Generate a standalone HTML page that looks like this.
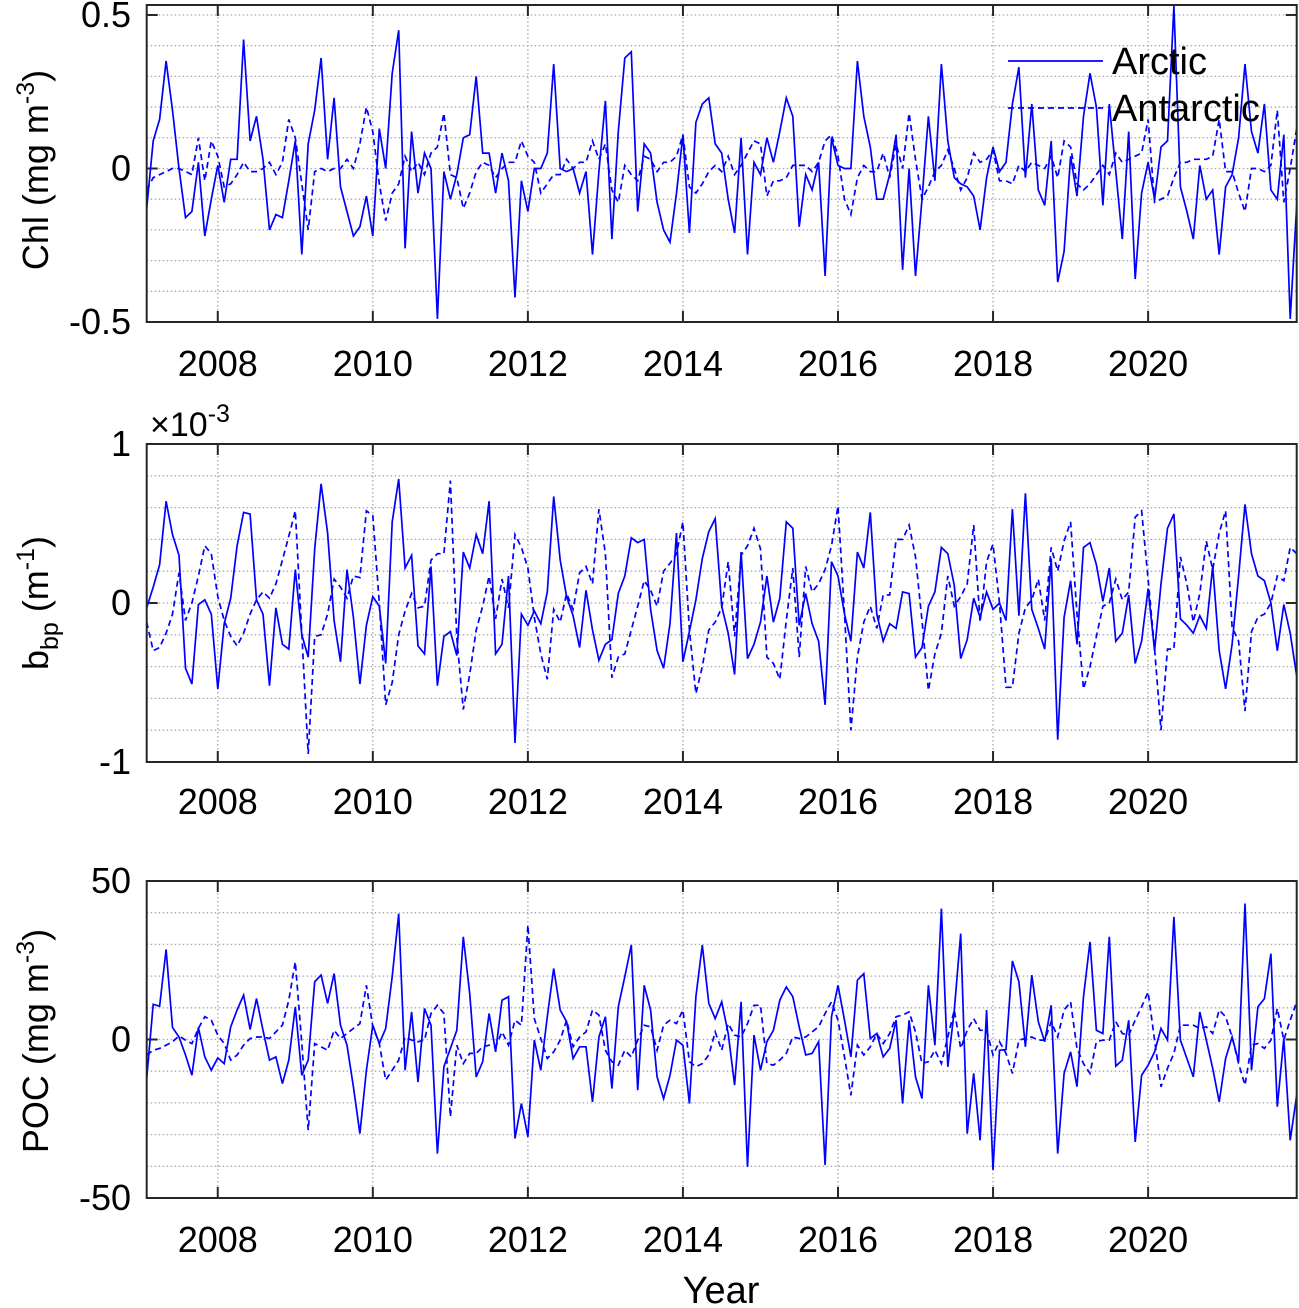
<!DOCTYPE html>
<html><head><meta charset="utf-8"><style>
html,body{margin:0;padding:0;background:#fff;}
svg{display:block;font-family:"Liberation Sans",Arial,sans-serif;}
</style></head><body>
<svg id="chart" width="1299" height="1308" viewBox="0 0 1299 1308" xmlns="http://www.w3.org/2000/svg">
<defs>
<clipPath id="clip1"><rect x="147" y="5" width="1150" height="318"/></clipPath>
<clipPath id="clip2"><rect x="147" y="444" width="1150" height="318"/></clipPath>
<clipPath id="clip3"><rect x="147" y="881" width="1150" height="318"/></clipPath>
</defs>
</svg>
<script>
// ---- data (monthly anomalies, starting Feb 2007) ----
const startYear = 2007 + 1/12;
const xTicks = [2008, 2010, 2012, 2014, 2016, 2018, 2020];
const chlTicks = [-0.5, 0, 0.5];
const bbpTicks = [-1, 0, 1];
const pocTicks = [-50, 0, 50];
const seriesNames = ["Arctic", "Antarctic"];

const chlArctic = [-0.13,0.09,0.16,0.35,0.19,0.0,-0.16,-0.14,0.02,-0.22,-0.1,0.01,-0.11,0.03,0.03,0.42,0.09,0.17,0.03,-0.2,-0.15,-0.16,-0.04,0.09,-0.28,0.08,0.19,0.36,0.03,0.23,-0.06,-0.14,-0.22,-0.19,-0.09,-0.22,0.13,0.0,0.31,0.45,-0.26,0.12,-0.08,0.05,0.0,-0.49,-0.01,-0.1,-0.02,0.1,0.11,0.30,0.05,0.05,-0.08,0.05,-0.04,-0.42,-0.04,-0.14,0.0,0.0,
0.05,0.34,0.0,-0.01,0.0,-0.08,-0.01,-0.28,-0.01,0.22,-0.23,0.12,0.36,0.38,-0.14,0.08,0.05,-0.11,-0.2,-0.24,-0.08,0.11,-0.21,0.15,0.21,0.23,0.08,0.05,-0.1,-0.21,0.1,-0.28,0.02,-0.02,0.1,0.02,0.12,0.23,0.17,-0.19,-0.02,-0.07,0.02,-0.35,0.1,0.01,0.0,0.0,0.35,0.17,0.07,-0.1,-0.1,-0.02,0.11,-0.33,0.0,-0.35,-0.1,0.17,
-0.04,0.34,0.09,-0.03,-0.05,-0.06,-0.09,-0.2,-0.03,0.07,-0.01,0.02,0.21,0.33,-0.03,0.21,-0.07,-0.12,0.09,-0.37,-0.27,0.04,-0.09,0.17,0.31,0.2,-0.12,0.21,-0.01,-0.23,0.12,-0.36,-0.08,0.02,-0.1,0.07,0.09,0.53,-0.06,-0.14,-0.23,0.01,-0.1,-0.07,-0.28,-0.06,-0.02,0.1,0.34,0.12,0.05,0.21,-0.07,-0.1,0.11,-0.49,-0.12];
const chlAntarctic = [-0.07,-0.03,-0.02,-0.01,0.0,0.0,-0.01,-0.02,0.1,-0.04,0.09,0.04,-0.06,-0.05,-0.02,0.02,-0.01,-0.01,0.0,0.02,-0.02,0.02,0.16,0.1,-0.05,-0.2,-0.01,0.0,-0.01,0.0,0.0,0.03,0.0,0.08,0.2,0.12,-0.05,-0.17,-0.08,-0.05,0.04,-0.01,0.02,-0.02,0.05,0.07,0.18,-0.02,-0.03,-0.13,-0.08,-0.01,0.02,0.01,-0.03,0.0,0.02,0.02,0.09,0.04,0.02,-0.08,
-0.05,-0.02,-0.02,0.03,0.0,0.02,0.02,0.09,0.03,0.08,-0.07,-0.11,0.01,-0.02,-0.04,0.04,0.03,-0.01,0.02,0.02,0.04,0.11,-0.06,-0.08,-0.05,-0.01,0.01,-0.01,0.04,-0.02,0.01,0.05,0.09,0.08,-0.09,-0.04,-0.04,-0.03,0.01,0.01,0.01,-0.01,0.02,0.09,0.11,0.04,-0.1,-0.15,-0.03,0.01,-0.01,-0.01,0.05,-0.03,0.08,0.0,0.18,0.03,-0.1,-0.06,
-0.01,0.01,0.06,0.0,-0.07,-0.03,0.05,0.02,0.03,0.06,-0.04,-0.04,-0.05,0.01,-0.01,0.02,0.01,0.0,0.04,-0.03,0.09,0.07,-0.05,-0.07,-0.05,-0.02,0.01,-0.02,0.05,0.02,0.03,0.04,0.05,0.16,-0.11,-0.1,-0.09,-0.03,0.02,0.02,0.03,0.03,0.03,0.04,0.16,-0.01,-0.01,-0.08,-0.14,0.0,0.0,-0.01,0.01,0.19,-0.11,0.0,0.13];
const bbpArctic = [-0.03,0.10,0.24,0.64,0.43,0.30,-0.41,-0.51,-0.01,0.02,-0.07,-0.54,-0.13,0.03,0.36,0.57,0.56,0.02,-0.07,-0.52,-0.03,-0.26,-0.29,0.21,-0.2,-0.34,0.34,0.75,0.44,-0.11,-0.37,0.21,-0.09,-0.51,-0.14,0.04,-0.02,-0.38,0.51,0.78,0.22,0.30,-0.27,-0.32,0.23,-0.52,-0.21,-0.18,-0.33,0.32,0.22,0.43,0.31,0.64,-0.32,-0.26,0.17,-0.88,-0.07,-0.14,-0.05,-0.13,
0.07,0.67,0.27,0.04,-0.08,-0.28,0.08,-0.17,-0.36,-0.26,-0.23,0.06,0.17,0.41,0.38,0.40,-0.04,-0.30,-0.41,-0.13,0.44,-0.37,-0.18,0.02,0.28,0.45,0.53,-0.02,-0.19,-0.45,0.32,-0.35,-0.26,-0.12,0.17,-0.12,0.03,0.51,0.47,-0.14,0.06,-0.13,-0.24,-0.64,0.26,0.17,-0.07,-0.24,0.32,0.22,0.57,-0.07,-0.24,-0.13,-0.16,0.07,0.06,-0.34,-0.28,-0.02,
0.07,0.35,0.31,0.11,-0.35,-0.23,0.03,-0.09,0.07,-0.04,0.0,-0.11,0.59,-0.08,0.69,-0.04,-0.16,-0.29,0.28,-0.86,-0.09,0.14,-0.26,0.35,0.38,0.24,0.01,0.22,-0.24,-0.19,0.05,-0.38,-0.24,0.09,-0.30,0.12,0.47,0.56,-0.10,-0.14,-0.19,-0.08,-0.16,0.23,-0.30,-0.54,-0.26,0.17,0.62,0.31,0.17,0.14,0.0,-0.30,-0.01,-0.19,-0.46];
const bbpAntarctic = [-0.12,-0.30,-0.28,-0.19,-0.07,0.19,-0.11,0.0,0.17,0.36,0.31,0.04,-0.11,-0.21,-0.27,-0.19,-0.07,0.02,0.07,0.03,0.12,0.27,0.42,0.58,-0.19,-0.95,-0.21,-0.2,-0.07,0.15,0.10,0.03,0.17,0.16,0.58,0.55,0.0,-0.64,-0.5,-0.2,-0.05,0.06,-0.03,-0.02,0.27,0.31,0.31,0.77,-0.22,-0.67,-0.45,-0.17,-0.02,0.17,-0.1,0.15,-0.03,0.43,0.35,0.22,-0.09,-0.32,
-0.48,-0.04,-0.12,0.06,-0.04,0.19,0.23,0.12,0.59,0.31,-0.47,-0.34,-0.32,-0.17,-0.02,0.14,0.08,-0.02,0.20,0.25,0.31,0.51,-0.17,-0.57,-0.40,-0.17,-0.12,-0.03,0.26,-0.21,0.30,0.36,0.47,0.34,-0.34,-0.38,-0.48,-0.11,0.22,-0.34,0.23,0.07,0.12,0.21,0.36,0.61,-0.07,-0.80,-0.34,-0.12,-0.02,-0.16,0.05,0.05,0.40,0.40,0.49,0.29,-0.11,-0.55,
-0.32,-0.19,0.17,-0.02,0.04,0.12,0.49,-0.12,0.26,0.37,0.0,-0.53,-0.53,-0.19,-0.03,0.02,0.15,-0.11,0.35,0.20,0.39,0.51,-0.07,-0.54,-0.40,-0.21,-0.02,0.0,0.15,0.02,0.07,0.54,0.58,0.15,-0.29,-0.80,-0.29,-0.29,0.29,0.12,-0.12,0.06,0.39,0.21,0.44,0.58,-0.15,-0.24,-0.68,-0.18,-0.09,-0.07,0.0,0.17,0.14,0.35,0.31];
const pocArctic = [-12.3,11.1,10.5,28.4,3.8,0.8,-4.9,-11.3,3.8,-5.5,-9.7,-5.8,-7.6,4.0,9.3,14.0,3.2,12.9,2.9,-6.5,-5.5,-13.9,-6.5,10.3,-11.3,-6.5,18.2,20.3,11.4,20.8,4.5,-1.8,-14.9,-29.7,-9.7,4.5,-1.3,3.5,19.8,39.7,-9.7,8.7,-13.4,9.8,4.5,-36.0,-8.6,-2.8,2.9,32.4,14.5,-11.8,-7.0,8.2,-3.9,12.4,13.5,-31.2,-20.2,-30.7,-0.2,-9.7,
7.2,22.4,9.3,5.6,-6.0,-2.3,-2.3,-19.7,0.8,7.2,-15.5,10.3,19.8,29.8,-16.0,17.1,9.3,-11.8,-18.6,-11.3,-0.2,-1.8,-20.2,13.5,29.8,11.4,6.6,11.9,1.9,-14.4,11.9,-40.2,1.4,-9.7,-0.7,2.9,12.4,16.6,13.5,4.0,-4.9,-4.4,-0.7,-39.6,7.2,17.1,6.1,-5.5,18.7,20.8,0.3,1.9,-5.5,-2.8,6.1,-20.2,6.1,-11.8,-18.6,17.1,
-1.8,41.3,-8.6,9.3,33.4,-29.7,-10.7,-31.8,9.3,-41.2,-3.4,-3.2,24.8,18.2,-2.3,20.3,5.6,-0.7,10.8,-36.0,-10.7,-3.9,-14.9,13.5,30.8,2.9,1.9,32.4,-8.4,-6.5,6.1,-32.3,-11.3,-8.1,-3.9,3.5,-0.2,38.7,-0.2,-6.0,-11.8,8.7,-0.2,-9.1,-19.7,-6.0,0.8,-7.0,42.9,-9.7,10.3,12.9,27.1,-21.2,0.3,-31.8,-17.6];
const pocAntarctic = [-4.9,-3.4,-2.8,-1.8,-0.7,1.1,-0.2,-1.3,3.5,7.2,6.1,1.4,-1.3,-6.5,-4.9,-1.8,0.3,0.8,0.8,0.3,2.4,4.5,12.4,24.5,-1.3,-28.6,-1.3,-2.3,-3.4,2.9,0.3,1.9,3.5,5.0,17.1,4.0,-1.3,-12.8,-9.7,-6.5,0.8,-0.2,-0.7,-0.2,8.2,10.8,8.2,-24.4,-1.8,-7.6,-4.4,-4.4,-2.3,-1.8,-2.3,2.4,-1.8,6.1,4.5,36.1,6.6,0.3,
-6.0,-3.9,-0.2,6.1,-2.3,0.8,2.4,9.3,7.7,-3.4,-7.0,-8.1,-3.4,-5.5,-0.2,4.5,4.0,-3.4,4.5,6.1,5.0,9.3,-7.0,-8.6,-7.6,-4.9,2.4,-3.4,5.0,1.4,0.8,5.0,10.8,10.8,-7.6,-8.1,-6.5,-4.4,0.8,0.3,0.8,2.4,4.0,8.2,11.9,6.1,-5.5,-17.6,-1.8,-4.9,-2.3,1.9,-1.3,1.9,7.2,7.7,8.7,2.4,-7.6,-7.0,
-3.4,-7.6,0.8,9.3,-2.8,2.9,6.6,2.9,2.9,-4.9,-0.7,-4.4,-10.7,-0.2,0.3,0.8,-0.2,-0.2,5.6,0.8,9.3,11.9,-2.8,-7.6,-10.7,-0.7,-0.2,-0.2,5.6,1.9,1.4,6.1,10.3,15.0,-0.2,-14.9,-9.1,-4.4,4.5,4.5,4.5,3.5,4.0,1.9,9.3,7.2,0.8,-7.6,-14.4,-1.8,-1.3,-2.8,-0.2,9.8,-0.2,6.1,11.9];

// ---- layout ----
const NS = "http://www.w3.org/2000/svg";
const svg = document.getElementById("chart");
const X0 = 146.7, X1 = 1296.7;
const tMin = startYear, tMax = 2021 + 11/12;
function xScale(t){ return X0 + (t - tMin) / (tMax - tMin) * (X1 - X0); }
function timeOf(i){ return startYear + i/12; }

const panels = [
  {name:"chl", top:5, bottom:322, vmin:-0.5, vmax:0.5325, grid:0.1, ticks:chlTicks, labels:["-0.5","0","0.5"], a:chlArctic, b:chlAntarctic, clip:"clip1", xLabelY:376},
  {name:"bbp", top:444, bottom:762, vmin:-1, vmax:1, grid:0.2, ticks:bbpTicks, labels:["-1","0","1"], a:bbpArctic, b:bbpAntarctic, clip:"clip2", xLabelY:814},
  {name:"poc", top:881, bottom:1198, vmin:-50, vmax:50, grid:10, ticks:pocTicks, labels:["-50","0","50"], a:pocArctic, b:pocAntarctic, clip:"clip3", xLabelY:1252}
];
function makeY(p){ return function(v){ return p.bottom - (v - p.vmin) / (p.vmax - p.vmin) * (p.bottom - p.top); }; }

function mk(tag, attrs, parent){
  const e = document.createElementNS(NS, tag);
  for (const k in attrs) e.setAttribute(k, attrs[k]);
  (parent || svg).appendChild(e);
  return e;
}

panels.forEach(function(p){
  const y = makeY(p);
  const g = mk("g", {});
  
  

  const nmin = Math.ceil(p.vmin / p.grid - 1e-6), nmax = Math.floor(p.vmax / p.grid + 1e-6);
  for (let n = nmin; n <= nmax; n++){
    const yy = y(n * p.grid);
    if (yy < p.top + 1 || yy > p.bottom - 1) continue;
    const l = mk("line", {x1:X0, x2:X1, y1:yy, y2:yy, stroke:"#a8a8a8", "stroke-width":1.3, "stroke-dasharray":"1.5 2.5"}, g);
    
    
  }
  xTicks.forEach(function(yr){
    const xx = xScale(yr);
    const l = mk("line", {x1:xx, x2:xx, y1:p.top, y2:p.bottom, stroke:"#a8a8a8", "stroke-width":1.3, "stroke-dasharray":"1.5 2.5"}, g);
    
    
    mk("line", {x1:xx, x2:xx, y1:p.bottom, y2:p.bottom-11, stroke:"#262626", "stroke-width":2}, g);
    mk("line", {x1:xx, x2:xx, y1:p.top, y2:p.top+11, stroke:"#262626", "stroke-width":2}, g);
    const t = mk("text", {x:xx, y:p.xLabelY, "font-size":36, "text-anchor":"middle", fill:"#000"}, g);
    t.textContent = String(yr);
    
    
  });
  p.ticks.forEach(function(v, k){
    const yy = y(v);
    mk("line", {x1:X0, x2:X0+11, y1:yy, y2:yy, stroke:"#262626", "stroke-width":2}, g);
    mk("line", {x1:X1, x2:X1-11, y1:yy, y2:yy, stroke:"#262626", "stroke-width":2}, g);
    const t = mk("text", {x:131, y:yy+12, "font-size":36, "text-anchor":"end", fill:"#000"}, g);
    t.textContent = p.labels[k];
    
    
  });
  [[p.a, "none", "arctic"], [p.b, "6 4", "antarctic"]].forEach(function(s){
    const pts = s[0].map(function(v, i){ return xScale(timeOf(i)).toFixed(1) + "," + y(v).toFixed(1); }).join(" ");
    const pl = mk("polyline", {points:pts, fill:"none", stroke:"#0000ff", "stroke-width":1.7, "stroke-linejoin":"miter", "clip-path":"url(#"+p.clip+")"}, g);
    if (s[1] !== "none") pl.setAttribute("stroke-dasharray", s[1]);
    
    
  });
  const box = mk("rect", {x:X0, y:p.top, width:X1-X0, height:p.bottom-p.top, fill:"none", stroke:"#262626", "stroke-width":2}, g);
  
  
});

function ytitle(cy, html, name){
  const t = mk("text", {x:0, y:0, "font-size":36, "text-anchor":"middle", fill:"#000", transform:"translate(48," + cy + ") rotate(-90)"});
  t.innerHTML = html;
  
  
}
ytitle(170, 'Chl (mg m<tspan dy="-14" font-size="25">-3</tspan><tspan dy="14">)</tspan>', 'chl-y-axis-title');
ytitle(603, 'b<tspan dy="10" font-size="25">bp</tspan><tspan dy="-10"> (m</tspan><tspan dy="-14" font-size="25">-1</tspan><tspan dy="14">)</tspan>', 'bbp-y-axis-title');
ytitle(1041, 'POC (mg m<tspan dy="-14" font-size="25">-3</tspan><tspan dy="14">)</tspan>', 'poc-y-axis-title');

const ex = mk("text", {x:150, y:436, "font-size":34, fill:"#000"});
ex.innerHTML = '×10<tspan dy="-14" font-size="25">-3</tspan>';



const xt = mk("text", {x:721, y:1303, "font-size":38, "text-anchor":"middle", fill:"#000"});
xt.textContent = "Year";



const lg = mk("g", {});


[[61, "none"], [108, "6 4"]].forEach(function(L, k){
  const ln = mk("line", {x1:1008, x2:1103, y1:L[0], y2:L[0], stroke:"#0000ff", "stroke-width":1.7}, lg);
  if (L[1] !== "none") ln.setAttribute("stroke-dasharray", L[1]);
  
  
  const t = mk("text", {x:1112, y:L[0]+13, "font-size":38, fill:"#000"}, lg);
  t.textContent = seriesNames[k];
  
  
});
</script>
</body></html>
